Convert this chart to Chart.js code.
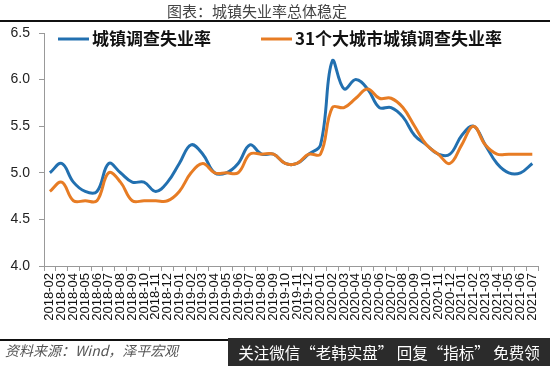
<!DOCTYPE html>
<html>
<head>
<meta charset="utf-8">
<script src="https://cdn.jsdelivr.net/npm/chart.js@4"></script>
<style>
  html, body { margin: 0; padding: 0; background: #fff; }
  #wrap { position: relative; width: 550px; height: 366px; overflow: hidden; }
  #grafico { position: absolute; left: 0; top: 0; }
  .titulo { position: absolute; left: 167px; top: 0px; font: 15px "Noto Sans CJK SC", sans-serif; color: #444; white-space: nowrap; }
  .linha { position: absolute; left: 0; height: 2px; background: #111; }
  .fonte { position: absolute; left: 5px; top: 340px; font: italic 14px "Noto Sans CJK SC", sans-serif; color: #555; white-space: nowrap; }
  .marca { position: absolute; left: 228px; top: 338px; width: 322px; height: 28px; background: #2b2b2b; color: #fff;
           font: 15.5px "Noto Sans CJK SC", sans-serif; line-height: 28px; text-align: center; white-space: nowrap; }
</style>
</head>
<body>
<div id="wrap">
  <canvas id="grafico" width="550" height="366"></canvas>
  <div class="titulo">图表：城镇失业率总体稳定</div>
  <div class="linha" style="top:20px; width:550px;"></div>
  <div class="linha" style="top:339px; width:228px;"></div>
  <div class="fonte">资料来源：Wind，泽平宏观</div>
  <div class="marca">关注微信“老韩实盘” 回复“指标” 免费领</div>
</div>
<script>
// meses 2018-02 .. 2021-07
const meses = ['2018-02','2018-03','2018-04','2018-05','2018-06','2018-07','2018-08','2018-09','2018-10','2018-11','2018-12',
  '2019-01','2019-02','2019-03','2019-04','2019-05','2019-06','2019-07','2019-08','2019-09','2019-10','2019-11','2019-12',
  '2020-01','2020-02','2020-03','2020-04','2020-05','2020-06','2020-07','2020-08','2020-09','2020-10','2020-11','2020-12',
  '2021-01','2021-02','2021-03','2021-04','2021-05','2021-06','2021-07']

const taxaUrbana = [5.0, 5.1, 4.9, 4.8, 4.8, 5.1, 5.0, 4.9, 4.9, 4.8, 4.9,
  5.1, 5.3, 5.2, 5.0, 5.0, 5.1, 5.3, 5.2, 5.2, 5.1, 5.1, 5.2,
  5.3, 6.2, 5.9, 6.0, 5.9, 5.7, 5.7, 5.6, 5.4, 5.3, 5.2, 5.2,
  5.4, 5.5, 5.3, 5.1, 5.0, 5.0, 5.1]

const taxa31Cidades = [4.8, 4.9, 4.7, 4.7, 4.7, 5.0, 4.9, 4.7, 4.7, 4.7, 4.7,
  4.8, 5.0, 5.1, 5.0, 5.0, 5.0, 5.2, 5.2, 5.2, 5.1, 5.1, 5.2,
  5.2, 5.7, 5.7, 5.8, 5.9, 5.8, 5.8, 5.7, 5.5, 5.3, 5.2, 5.1,
  5.3, 5.5, 5.3, 5.2, 5.2, 5.2, 5.2]

const ticksY = [4.0, 4.5, 5.0, 5.5, 6.0, 6.5]

const nomesSeries = ['城镇调查失业率', '31个大城市城镇调查失业率']
const cores = ['#2270B0', '#E77C24']

// legenda desenhada dentro da area do grafico
const legendaInterna = {
  id: 'legendaInterna',
  afterDraw(chart) {
    const ctx = chart.ctx
    const posX = [58, 261]
    const y = 39
    ctx.save()
    chart.data.datasets.forEach((ds, i) => {
      ctx.strokeStyle = ds.borderColor
      ctx.lineWidth = 3
      ctx.beginPath()
      ctx.moveTo(posX[i], y)
      ctx.lineTo(posX[i] + 31, y)
      ctx.stroke()
      ctx.fillStyle = '#111'
      ctx.font = 'bold 17px "Noto Sans CJK SC", sans-serif'
      ctx.textBaseline = 'middle'
      ctx.fillText(ds.label, posX[i] + 34, y)
    })
    ctx.restore()
  }
}

var grafico = document.getElementById('grafico').getContext('2d')
var dados = {
  type: 'line',
  data: {
    labels: meses,
    datasets: [{
        label: nomesSeries[0],
        data: taxaUrbana,
        borderColor: cores[0],
        backgroundColor: cores[0],
        borderWidth: 3,
        pointRadius: 0,
        tension: 0.4,
        order: 1
      },
      {
        label: nomesSeries[1],
        data: taxa31Cidades,
        borderColor: cores[1],
        backgroundColor: cores[1],
        borderWidth: 3,
        pointRadius: 0,
        tension: 0.4,
        order: 0
    }]
  },
  options: {
    responsive: false,
    animation: false,
    devicePixelRatio: 1,
    layout: { padding: { top: 33, right: 8, bottom: 0, left: 0 } },
    plugins: {
      legend: { display: false },
      title: { display: false },
      tooltip: { enabled: false }
    },
    scales: {
      x: {
        offset: true,
        grid: { offset: true, drawOnChartArea: false, drawTicks: true, tickLength: 5, color: '#999' },
        border: { display: true, color: '#999', width: 1 },
        ticks: {
          autoSkip: false, maxRotation: 90, minRotation: 90, padding: 2,
          color: '#111', font: { family: '"Liberation Sans", Arial, sans-serif', size: 13 }
        },
        afterFit: (scale) => { scale.height = 100 }
      },
      y: {
        min: 4.0,
        max: 6.5,
        afterBuildTicks: (scale) => { scale.ticks = ticksY.map(v => ({ value: v })) },
        grid: { drawOnChartArea: false, drawTicks: true, tickLength: 5, color: '#999' },
        border: { display: true, color: '#999', width: 1 },
        ticks: {
          padding: 9, color: '#222',
          font: { family: '"Liberation Sans", Arial, sans-serif', size: 14 },
          callback: (v) => Number(v).toFixed(1)
        },
        afterFit: (scale) => { scale.width = 44 }
      }
    }
  },
  plugins: [legendaInterna]
}
new Chart(grafico, dados)
</script>
</body>
</html>
